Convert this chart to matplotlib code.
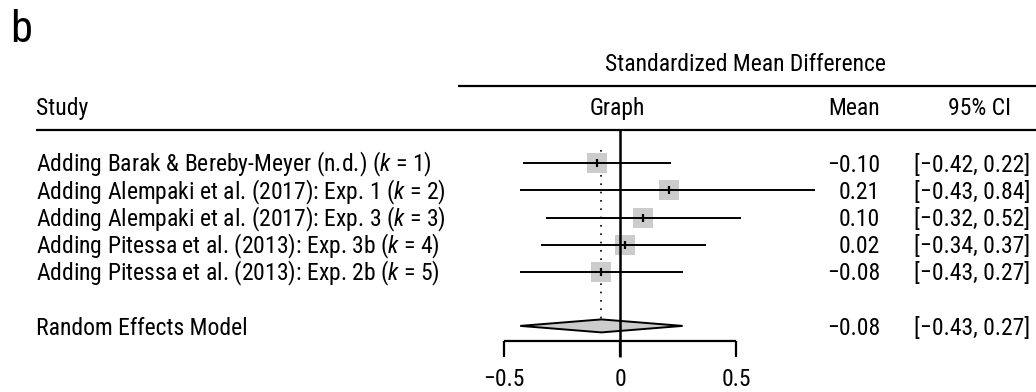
import matplotlib.pyplot as plt
from matplotlib import font_manager
import numpy as np

# ==========================================
# Data
# ==========================================

studies = [
    "Adding Barak & Bereby-Meyer (n.d.) ($k$ = 1)",
    "Adding Alempaki et al. (2017): Exp. 1 ($k$ = 2)",
    "Adding Alempaki et al. (2017): Exp. 3 ($k$ = 3)",
    "Adding Pitessa et al. (2013): Exp. 3b ($k$ = 4)",
    "Adding Pitessa et al. (2013): Exp. 2b ($k$ = 5)",
]
means = [-0.10, 0.21, 0.10, 0.02, -0.08]
ci_low = [-0.42, -0.43, -0.32, -0.34, -0.43]
ci_high = [0.22, 0.84, 0.52, 0.37, 0.27]

re_label = "Random Effects Model"
re_mean = -0.08
re_low = -0.43
re_high = 0.27

ticks = [-0.5, 0, 0.5]
tick_labels = ["\u22120.5", "0", "0.5"]

# ==========================================
# Style
# ==========================================

installed = {f.name for f in font_manager.fontManager.ttflist}
FONT = "Liberation Sans"
for cand in ["Roboto Condensed", "Pragati Narrow", "Archivo Narrow", "Asap Condensed"]:
    if cand in installed:
        FONT = cand
        break

plt.rcParams["font.family"] = [FONT, "DejaVu Sans"]
plt.rcParams["mathtext.fontset"] = "custom"
plt.rcParams["mathtext.rm"] = FONT
plt.rcParams["mathtext.it"] = FONT + ":italic"

FS = 17
GRAY = "#cccccc"


def fmt(v):
    return f"{v:.2f}".replace("-", "\u2212")


# pixel layout helpers (zero at x=620, 232 px per unit, rows 27.1 px apart)
def px2x(p):
    return (p - 620) / 232


def px2y(p):
    return (p - 163.3) / 27.1


fig = plt.figure(figsize=(10.36, 3.92), dpi=100)
ax = fig.add_axes([0, 0, 1, 1])
ax.set_xlim(px2x(0), px2x(1036))
ax.set_ylim(px2y(392), px2y(0))
ax.axis("off")

rows = np.arange(len(studies))
re_row = len(studies) + 1

# headers
ax.text(px2x(10), px2y(42), "b", fontsize=32, va="baseline", ha="left")
ax.text(px2x(745), px2y(71), "Standardized Mean Difference", fontsize=FS,
        va="baseline", ha="center")
ax.hlines(px2y(85.7), px2x(458), px2x(1036), color="black", lw=1.6)
ax.text(px2x(36), px2y(115), "Study", fontsize=FS, va="baseline", ha="left")
ax.text(px2x(617), px2y(115), "Graph", fontsize=FS, va="baseline", ha="center")
ax.text(px2x(880), px2y(115), "Mean", fontsize=FS, va="baseline", ha="right")
ax.text(px2x(979), px2y(115), "95% CI", fontsize=FS, va="baseline", ha="center")
ax.hlines(px2y(129.5), px2x(36), px2x(1036), color="black", lw=1.6)

# study rows
ax.hlines(rows, ci_low, ci_high, color="black", lw=1.4, zorder=3)
ax.scatter(means, rows, marker="s", s=225, color=GRAY, linewidths=0, zorder=2)
ax.scatter(means, rows, marker="|", s=40, color="black", linewidths=1.6, zorder=4)

off = 8.6 / 27.1
for i, name in enumerate(studies):
    ax.text(px2x(36), rows[i] + off, name, fontsize=FS, va="baseline", ha="left")
    ax.text(px2x(880), rows[i] + off, fmt(means[i]), fontsize=FS,
            va="baseline", ha="right")
    ax.text(px2x(1030), rows[i] + off,
            f"[{fmt(ci_low[i])}, {fmt(ci_high[i])}]", fontsize=FS,
            va="baseline", ha="right")

# random effects model
h = 6.5 / 27.1
ax.fill([re_low, re_mean, re_high, re_mean],
        [re_row, re_row - h, re_row, re_row + h],
        facecolor=GRAY, edgecolor="black", lw=1.4, zorder=2)
ax.vlines(re_mean, px2y(150), re_row - h, color="black", lw=1.2,
          linestyles=(0, (1, 4)), zorder=1)
ax.text(px2x(36), re_row + off, re_label, fontsize=FS, va="baseline", ha="left")
ax.text(px2x(880), re_row + off, fmt(re_mean), fontsize=FS,
        va="baseline", ha="right")
ax.text(px2x(1030), re_row + off, f"[{fmt(re_low)}, {fmt(re_high)}]",
        fontsize=FS, va="baseline", ha="right")

# zero line and axis
axis_y = px2y(341)
tick_end = px2y(357)
ax.vlines(0, px2y(129.5), tick_end, color="black", lw=1.8, zorder=5)
ax.hlines(axis_y, ticks[0], ticks[-1], color="black", lw=1.6)
ax.vlines(ticks, axis_y, tick_end, color="black", lw=1.6)
for t, lab in zip(ticks, tick_labels):
    ax.text(t, px2y(386), lab, fontsize=FS, va="baseline", ha="center")

plt.savefig("out.png", dpi=100)
